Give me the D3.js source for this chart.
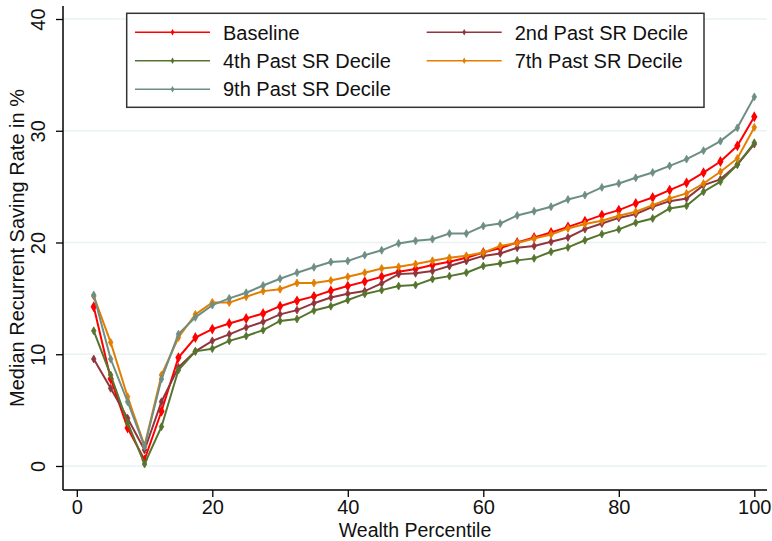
<!DOCTYPE html>
<html>
<head>
<meta charset="utf-8">
<script src="https://cdn.jsdelivr.net/npm/d3@7"></script>
<style>
  body { margin: 0; background: #fff; }
  text { font-family: "Liberation Sans", Arial, sans-serif; fill: #111; }
</style>
</head>
<body>
<div id="chart"></div>
<script>
// wealth percentile points
var pct = [2.5, 5, 7.5, 10, 12.5, 15, 17.5, 20, 22.5, 25, 27.5, 30, 32.5, 35, 37.5, 40,
  42.5, 45, 47.5, 50, 52.5, 55, 57.5, 60, 62.5, 65, 67.5, 70, 72.5, 75, 77.5, 80,
  82.5, 85, 87.5, 90, 92.5, 95, 97.5, 100];

var baseline = [14.25, 7.8, 3.4, 0.55, 4.9, 9.7, 11.5, 12.25, 12.75, 13.2, 13.65, 14.3, 14.78, 15.18, 15.68, 16.1,
  16.5, 16.93, 17.38, 17.62, 17.98, 18.27, 18.63, 19.1, 19.5, 20.0, 20.45, 20.9, 21.4, 21.91, 22.45, 22.9,
  23.5, 24.03, 24.69, 25.34, 26.25, 27.25, 28.65, 31.25];
var dec2 = [9.57, 6.95, 4.27, 1.43, 5.75, 8.83, 10.26, 11.2, 11.78, 12.4, 12.9, 13.57, 13.95, 14.57, 15.08, 15.42,
  15.65, 16.34, 17.17, 17.24, 17.44, 17.89, 18.34, 18.8, 19.02, 19.53, 19.68, 20.06, 20.45, 21.2, 21.7, 22.2,
  22.54, 23.2, 23.7, 23.94, 25.13, 25.65, 26.98, 28.8];
var dec4 = [12.1, 8.14, 3.88, 0.18, 3.52, 8.59, 10.26, 10.5, 11.2, 11.63, 12.16, 12.98, 13.15, 13.92, 14.3, 14.85,
  15.4, 15.74, 16.1, 16.19, 16.73, 16.99, 17.3, 17.9, 18.13, 18.4, 18.58, 19.17, 19.56, 20.2, 20.75, 21.17,
  21.77, 22.15, 23.05, 23.28, 24.54, 25.45, 26.98, 28.92];
var dec7 = [15.2, 11.06, 6.2, 1.82, 8.14, 11.5, 13.57, 14.64, 14.62, 15.15, 15.65, 15.82, 16.37, 16.38, 16.6, 16.93,
  17.3, 17.68, 17.83, 18.07, 18.37, 18.63, 18.81, 19.1, 19.7, 19.95, 20.36, 20.72, 21.26, 21.65, 21.94, 22.39,
  22.75, 23.35, 23.94, 24.39, 25.28, 26.33, 27.52, 30.3];
var dec9 = [15.3, 9.57, 5.75, 1.73, 7.78, 11.8, 13.3, 14.4, 15.0, 15.5, 16.15, 16.76, 17.3, 17.78, 18.26, 18.35,
  18.87, 19.3, 19.92, 20.15, 20.3, 20.8, 20.8, 21.47, 21.7, 22.42, 22.8, 23.2, 23.85, 24.24, 24.93, 25.28,
  25.79, 26.27, 26.86, 27.46, 28.22, 29.07, 30.26, 33.03];

var seriesNames = ["Baseline", "2nd Past SR Decile", "4th Past SR Decile", "7th Past SR Decile", "9th Past SR Decile"];
var seriesColors = ["#ff0000", "#90353b", "#55752f", "#e37e00", "#6e8e84"];
var xTicks = [0, 20, 40, 60, 80, 100];
var yTicks = [0, 10, 20, 30, 40];

var svgWidth = 772;
var svgHeight = 541;

// plot region (pixels)
var plot = { left: 63, right: 767, top: 6, bottom: 490 };

var svg = d3.select("#chart")
  .append("svg")
  .attr("width", svgWidth)
  .attr("height", svgHeight);

var x = d3.scaleLinear().domain([0, 100]).range([76.8, 754.3]);
var y = d3.scaleLinear().domain([0, 40]).range([466, 19]);

// gridlines
svg.append("g")
  .selectAll("line")
  .data(yTicks)
  .enter()
  .append("line")
  .attr("x1", plot.left)
  .attr("x2", plot.right)
  .attr("y1", d => y(d))
  .attr("y2", d => y(d))
  .attr("stroke", "#eaf2f3")
  .attr("stroke-width", 1.5);

// axes
var xAxis = svg.append("g")
  .attr("transform", `translate(0, ${plot.bottom})`)
  .call(d3.axisBottom(x).tickValues(xTicks).tickSize(7).tickSizeOuter(0));
xAxis.select(".domain").remove();
xAxis.selectAll("line").attr("stroke", "#000").attr("stroke-width", 1.3);
xAxis.selectAll("text")
  .attr("y", 24.3).attr("dy", null)
  .style("font-size", "20px")
  .style("font-family", "Liberation Sans, Arial, sans-serif")
  .attr("fill", "#111");

var yAxis = svg.append("g")
  .attr("transform", `translate(${plot.left}, 0)`)
  .call(d3.axisLeft(y).tickValues(yTicks).tickSize(7).tickSizeOuter(0));
yAxis.select(".domain").remove();
yAxis.selectAll("line").attr("stroke", "#000").attr("stroke-width", 1.3);
yAxis.selectAll("text")
  .attr("x", null).attr("dy", null)
  .attr("text-anchor", "middle")
  .attr("transform", "translate(-18,0) rotate(-90)")
  .style("font-size", "20px")
  .style("font-family", "Liberation Sans, Arial, sans-serif")
  .attr("fill", "#111");

svg.append("line")
  .attr("x1", plot.left).attr("x2", plot.left)
  .attr("y1", plot.top).attr("y2", plot.bottom)
  .attr("stroke", "#000").attr("stroke-width", 1.5);
svg.append("line")
  .attr("x1", plot.left).attr("x2", plot.right)
  .attr("y1", plot.bottom).attr("y2", plot.bottom)
  .attr("stroke", "#000").attr("stroke-width", 1.5);

// axis titles
svg.append("text")
  .attr("x", (plot.left + plot.right) / 2)
  .attr("y", 536.6)
  .attr("text-anchor", "middle")
  .style("font-size", "19.5px")
  .text("Wealth Percentile");

svg.append("text")
  .attr("transform", `translate(24, ${(plot.top + plot.bottom) / 2}) rotate(-90)`)
  .attr("text-anchor", "middle")
  .style("font-size", "20px")
  .text("Median Recurrent Saving Rate in %");

// lines
var allSeries = [baseline, dec2, dec4, dec7, dec9];
var line = d3.line()
  .x((d, i) => x(pct[i]))
  .y(d => y(d));
var diamond = d3.symbol().type(d3.symbolDiamond).size(18);

allSeries.forEach(function (vals, k) {
  var g = svg.append("g");
  g.append("path")
    .datum(vals)
    .attr("d", line)
    .attr("fill", "none")
    .attr("stroke", seriesColors[k])
    .attr("stroke-width", 2);
  g.selectAll("path.pt")
    .data(vals)
    .enter()
    .append("path")
    .attr("class", "pt")
    .attr("d", diamond)
    .attr("transform", (d, i) => `translate(${x(pct[i])}, ${y(d)})`)
    .attr("fill", seriesColors[k])
    .attr("stroke", seriesColors[k])
    .attr("stroke-width", k == 0 ? 1.5 : 0.8);
});

// legend
var legend = svg.append("g");
legend.append("rect")
  .attr("x", 126.7).attr("y", 13.3)
  .attr("width", 577.3).attr("height", 94)
  .attr("fill", "#fff")
  .attr("stroke", "#333")
  .attr("stroke-width", 1.5);

var colX = [135, 426.7];
var rowY = [32.3, 60.8, 89.2];
var smallDiamond = d3.symbol().type(d3.symbolDiamond).size(12);

seriesNames.forEach(function (name, k) {
  var cx = colX[k % 2];
  var cy = rowY[Math.floor(k / 2)];
  legend.append("line")
    .attr("x1", cx).attr("x2", cx + 75)
    .attr("y1", cy).attr("y2", cy)
    .attr("stroke", seriesColors[k])
    .attr("stroke-width", 1.5);
  legend.append("path")
    .attr("d", smallDiamond)
    .attr("transform", `translate(${cx + 37.5}, ${cy})`)
    .attr("fill", seriesColors[k]);
  legend.append("text")
    .attr("x", cx + 88)
    .attr("y", cy + 7.2)
    .style("font-size", "20px")
    .text(name);
});
</script>
</body>
</html>
